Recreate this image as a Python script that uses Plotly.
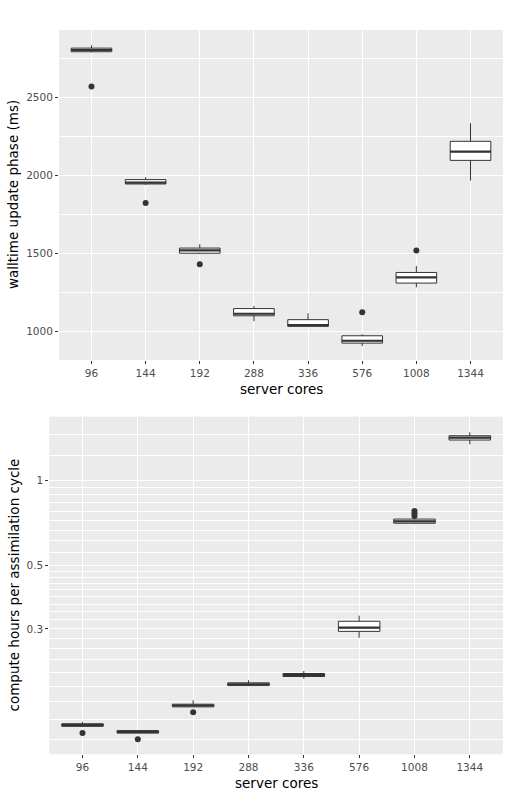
import numpy as np
import plotly.graph_objects as go

# ---------------- data ----------------
cores = ["96", "144", "192", "288", "336", "576", "1008", "1344"]

# walltime update phase (ms)
wt_low = [2786, 1940, 1496, 1067, 1030, 908, 1284, 1967]
wt_q1 = [2791, 1945, 1502, 1102, 1034, 927, 1311, 2096]
wt_med = [2802, 1954, 1520, 1115, 1043, 942, 1347, 2152]
wt_q3 = [2814, 1973, 1535, 1148, 1077, 974, 1379, 2218]
wt_high = [2832, 1988, 1560, 1164, 1118, 984, 1420, 2334]
wt_out_cat = ["96", "144", "192", "576", "1008"]
wt_out_val = [2568, 1823, 1431, 1124, 1519]

# compute hours per assimilation cycle
ch_low = [0.1355, 0.1286, 0.1590, 0.1890, 0.2004, 0.2790, 0.7000, 1.335]
ch_q1 = [0.1363, 0.1290, 0.1596, 0.1895, 0.2040, 0.2939, 0.7050, 1.382]
ch_med = [0.1377, 0.1303, 0.1613, 0.1916, 0.2065, 0.3027, 0.7160, 1.408]
ch_q3 = [0.1392, 0.1317, 0.1630, 0.1938, 0.2090, 0.3189, 0.7290, 1.431]
ch_high = [0.1412, 0.1322, 0.1683, 0.1978, 0.2133, 0.3337, 0.7350, 1.471]
ch_out_cat = ["96", "144", "192", "1008", "1008", "1008"]
ch_out_val = [0.1292, 0.1227, 0.1527, 0.748, 0.762, 0.778]

wt_major = [1000, 1500, 2000, 2500]
wt_minor = [1250, 1750, 2250, 2750]
ch_major = [0.3, 0.5, 1]
ch_major_lbl = ["0.3", "0.5", "1"]
ch_major_ext = [0.1, 0.3, 0.5, 1, 3]

# ---------------- style ----------------
W, H = 509, 794
BOXW = 0.75
LINE = "#333333"
FONT = "DejaVu Sans"
TICKC = "#4D4D4D"
PANEL = "#EBEBEB"

pos = {c: i for i, c in enumerate(cores)}
idx = list(range(len(cores)))


def median_segments(meds):
    xs, ys = [], []
    for i, m in zip(idx, meds):
        xs += [i - BOXW / 2, i + BOXW / 2, None]
        ys += [m, m, None]
    return xs, ys


fig = go.Figure()

# top panel
fig.add_trace(go.Box(
    x=idx, q1=wt_q1, median=wt_med, q3=wt_q3,
    lowerfence=wt_low, upperfence=wt_high,
    width=BOXW, whiskerwidth=0, fillcolor="white",
    line=dict(color=LINE, width=1), boxpoints=False,
    xaxis="x", yaxis="y", showlegend=False, hoverinfo="skip"))
mx, my = median_segments(wt_med)
fig.add_trace(go.Scatter(x=mx, y=my, mode="lines",
                         line=dict(color=LINE, width=2.2),
                         xaxis="x", yaxis="y", showlegend=False, hoverinfo="skip"))
fig.add_trace(go.Scatter(x=[pos[c] for c in wt_out_cat], y=wt_out_val, mode="markers",
                         marker=dict(color=LINE, size=6),
                         xaxis="x", yaxis="y", showlegend=False, hoverinfo="skip"))

# bottom panel
fig.add_trace(go.Box(
    x=idx, q1=ch_q1, median=ch_med, q3=ch_q3,
    lowerfence=ch_low, upperfence=ch_high,
    width=BOXW, whiskerwidth=0, fillcolor="white",
    line=dict(color=LINE, width=1), boxpoints=False,
    xaxis="x2", yaxis="y2", showlegend=False, hoverinfo="skip"))
mx2, my2 = median_segments(ch_med)
fig.add_trace(go.Scatter(x=mx2, y=my2, mode="lines",
                         line=dict(color=LINE, width=2.2),
                         xaxis="x2", yaxis="y2", showlegend=False, hoverinfo="skip"))
fig.add_trace(go.Scatter(x=[pos[c] for c in ch_out_cat], y=ch_out_val, mode="markers",
                         marker=dict(color=LINE, size=6),
                         xaxis="x2", yaxis="y2", showlegend=False, hoverinfo="skip"))

ch_minor = []
for a, b in zip(ch_major_ext[:-1], ch_major_ext[1:]):
    ch_minor += list(np.linspace(a, b, 10)[1:-1])

common_x = dict(
    range=[-0.6, len(cores) - 0.4], tickmode="array", tickvals=idx, ticktext=cores,
    showgrid=True, gridcolor="white", gridwidth=1.1, zeroline=False, showline=False,
    ticks="outside", ticklen=3, tickwidth=1, tickcolor=LINE,
    tickfont=dict(family=FONT, size=10.5, color=TICKC), fixedrange=True)

fig.update_layout(
    width=W, height=H, margin=dict(l=0, r=0, t=0, b=0),
    paper_bgcolor="white", plot_bgcolor=PANEL, boxmode="overlay",
    xaxis=dict(domain=[59 / W, 503 / W], anchor="y", **common_x),
    yaxis=dict(domain=[1 - 360 / H, 1 - 30 / H], anchor="x",
               range=[819, 2930], tickmode="array", tickvals=wt_major,
               ticktext=[str(v) for v in wt_major],
               showgrid=True, gridcolor="white", gridwidth=1.1, zeroline=False,
               ticks="outside", ticklen=3, tickwidth=1, tickcolor=LINE,
               tickfont=dict(family=FONT, size=10.5, color=TICKC),
               minor=dict(tickmode="array", tickvals=wt_minor, showgrid=True,
                          gridcolor="white", gridwidth=0.55, ticks="")),
    xaxis2=dict(domain=[49.3 / W, 503 / W], anchor="y2", **common_x),
    yaxis2=dict(domain=[1 - 754.3 / H, 1 - 416.7 / H], anchor="x2", type="log",
                range=[np.log10(0.1087), np.log10(1.669)], tickmode="array",
                tickvals=ch_major, ticktext=ch_major_lbl,
                showgrid=True, gridcolor="white", gridwidth=1.1, zeroline=False,
                ticks="outside", ticklen=3, tickwidth=1, tickcolor=LINE,
                tickfont=dict(family=FONT, size=10.5, color=TICKC),
                minor=dict(tickmode="array", tickvals=ch_minor, showgrid=True,
                           gridcolor="white", gridwidth=0.55, ticks="")),
)

title_font = dict(family=FONT, size=13.5, color="black")
fig.add_annotation(text="server cores", x=(59 + 503) / 2 / W, y=1 - 389 / H,
                   xref="paper", yref="paper", showarrow=False, font=title_font,
                   xanchor="center", yanchor="middle")
fig.add_annotation(text="walltime update phase (ms)", x=13 / W, y=1 - 195 / H,
                   xref="paper", yref="paper", showarrow=False, font=title_font,
                   textangle=-90, xanchor="center", yanchor="middle")
fig.add_annotation(text="server cores", x=(49.3 + 503) / 2 / W, y=1 - 783 / H,
                   xref="paper", yref="paper", showarrow=False, font=title_font,
                   xanchor="center", yanchor="middle")
fig.add_annotation(text="compute hours per assimilation cycle", x=13 / W, y=1 - 585.5 / H,
                   xref="paper", yref="paper", showarrow=False, font=title_font,
                   textangle=-90, xanchor="center", yanchor="middle")

fig.write_html("out.html")
